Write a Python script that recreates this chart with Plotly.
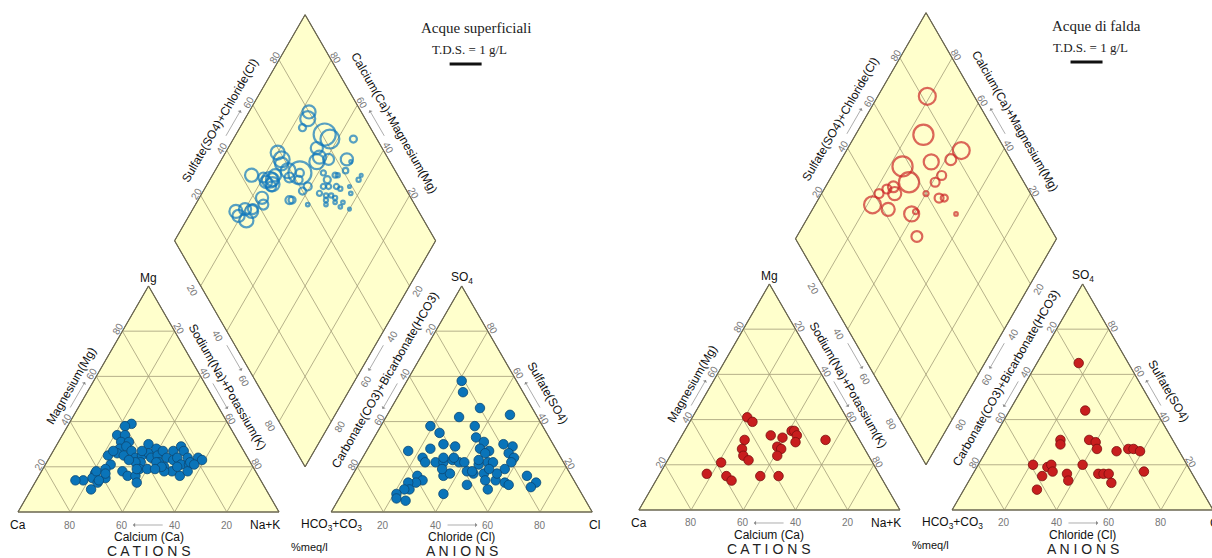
import math
import plotly.graph_objects as go

# ---------------------------------------------------------------------------
# Piper diagrams of major-ion chemistry (% meq/l)
# ---------------------------------------------------------------------------

# --- Acque superficiali: cation triangle (Mg %, Na+K %) ---
sup_cat_mg = [39, 38, 34, 34, 31, 31, 28, 29, 26, 25, 27, 25, 24, 25, 30, 26, 22, 22, 23, 21,
              19, 15, 17, 15, 10, 14, 14, 13, 18, 16, 16, 13, 19, 19, 24, 28, 25, 27, 22, 24,
              20, 27, 23, 18, 24, 29, 21, 27, 24, 21, 16, 18, 22, 24, 23, 21, 18, 22, 20,
              18, 17, 27, 27, 19, 20, 19, 14]
sup_cat_nak = [24, 22, 21, 24, 24, 27, 25, 27, 25, 28, 30, 22, 33, 35, 35, 37, 36, 34, 31, 25,
               24, 26, 21, 21, 23, 18, 15, 24, 31, 34, 37, 39, 37, 40, 39, 39, 41, 42, 43, 45,
               46, 46, 48, 50, 49, 48, 52, 50, 53, 55, 54, 56, 55, 57, 59, 57, 47, 42, 45,
               21, 25, 23, 34, 43, 51, 36, 24]

# --- Acque superficiali: anion triangle (SO4 %, Cl %) ---
sup_an_so4 = [58, 53, 46, 42, 43, 38, 38, 35, 33, 27, 28, 30, 29, 31, 28, 27, 30, 29, 26, 24,
              24, 22, 22, 22, 23, 22, 22, 18, 17, 21, 22, 22, 17, 14, 14, 10, 13, 12, 19, 16,
              13, 11, 12, 8, 16, 17, 19, 16, 14, 13, 13, 10, 10, 8, 6, 5, 17, 26, 19, 24,
              24, 23, 22, 18]
sup_an_cl = [21, 24, 34, 28, 47, 19, 36, 24, 39, 16, 24, 28, 33, 43, 43, 47, 51, 55, 55, 58,
             23, 25, 29, 32, 35, 38, 40, 43, 46, 46, 49, 51, 50, 52, 56, 55, 60, 62, 57, 67,
             72, 71, 46, 39, 35, 37, 33, 25, 28, 26, 23, 25, 23, 21, 22, 26, 55, 46, 51, 31,
             35, 45, 58, 45]

# --- Acque superficiali: diamond (Na+K %, SO4+Cl %, T.D.S. g/L) ---
sup_dia_nak = [23, 24, 24, 34, 37, 46, 34, 20, 23, 24, 37, 41, 48, 15, 23, 25, 24, 30, 33, 33,
               34, 39, 38, 35, 36, 43, 42, 45, 47, 48, 50, 57, 57, 45, 47, 50, 52, 45, 48, 50,
               52, 49, 50, 53, 56, 57, 56, 55, 24, 26, 23, 20, 17, 19, 23, 22, 24, 25, 20, 28,
               37, 50, 60, 23]
sup_dia_sc = [80, 78, 74, 81, 82, 91, 75, 59, 59, 58, 72, 77, 84, 44, 50, 50, 53, 58, 63, 63,
              61, 63, 60, 53, 54, 59, 72, 72, 76, 77, 81, 84, 86, 69, 71, 74, 75, 66, 68, 70,
              71, 67, 66, 70, 71, 78, 73, 79, 43, 42, 37, 34, 30, 30, 32, 48, 51, 49, 48, 59,
              74, 85, 74, 36]
sup_dia_tds = [0.41, 0.47, 0.22, 0.69, 0.59, 0.22, 0.38, 0.44, 0.50, 0.41, 0.47, 0.34, 0.38,
               0.41, 0.50, 0.44, 0.38, 0.31, 0.25, 0.72, 0.25, 0.25, 0.22, 0.25, 0.22, 0.11,
               0.16, 0.22, 0.16, 0.13, 0.17, 0.13, 0.09, 0.16, 0.16, 0.16, 0.13, 0.16, 0.13,
               0.13, 0.13, 0.13, 0.11, 0.11, 0.11, 0.11, 0.11, 0.09, 0.38, 0.31, 0.31, 0.38,
               0.41, 0.38, 0.44, 0.38, 0.41, 0.31, 0.31, 0.47, 0.41, 0.09, 0.09, 0.41]

# --- Acque di falda: cation triangle ---
fal_cat_mg = [41, 39, 33, 31, 27, 24, 22, 21, 16, 15, 13, 15, 15, 32, 28, 27, 24, 35, 35, 33, 30, 31]
fal_cat_nak = [21, 24, 34, 25, 26, 28, 31, 21, 18, 26, 29, 39, 46, 39, 39, 41, 41, 41, 42, 44, 45, 56]

# --- Acque di falda: anion triangle ---
fal_an_so4 = [65, 44, 31, 29, 31, 30, 27, 26, 27, 27, 26, 20, 19, 20, 17, 20, 16, 13, 15, 9,
              16, 16, 16, 12, 17]
fal_an_cl = [16, 29, 26, 27, 37, 40, 42, 50, 54, 56, 59, 21, 27, 28, 30, 40, 36, 38, 27, 28,
             48, 50, 52, 55, 65]

# --- Acque di falda: diamond ---
fal_dia_nak = [19, 26, 44, 42, 35, 25, 31, 42, 41, 26, 24, 22, 28, 22, 29, 40, 46, 48, 39, 40, 56, 46]
fal_dia_sc = [82, 72, 83, 77, 69, 57, 56, 70, 66, 49, 46, 42, 48, 37, 42, 60, 64, 66, 50, 52, 67, 47]
fal_dia_tds = [0.53, 0.63, 0.53, 0.34, 0.47, 0.63, 0.63, 0.28, 0.28, 0.34, 0.28, 0.28, 0.41,
               0.53, 0.41, 0.16, 0.28, 0.22, 0.47, 0.16, 0.11, 0.34]

tick_values = [20, 40, 60, 80]

# ---------------------------------------------------------------------------
# Geometry
# ---------------------------------------------------------------------------
H = math.sqrt(3) / 2
GAP = 20.0                 # gap between cation and anion triangles (% units)
PX = 2.61                  # screen pixels per % unit
FIG_W, FIG_H = 1212, 558
ORIGIN_PX = (18, 512)      # screen position of the Ca corner of the left diagram
TDS_BAR_PX = 32            # circle diameter for T.D.S. = 1 g/L

FONT = "Liberation Sans, Arial, sans-serif"
SERIF = "Liberation Serif, Times New Roman, serif"
FILL = "#FFFFCC"
GRID = "#A39D78"
EDGE = "#6A6650"
TICK_COL = "#777777"

x_range = [-ORIGIN_PX[0] / PX, (FIG_W - ORIGIN_PX[0]) / PX]
y_range = [(ORIGIN_PX[1] - FIG_H) / PX, ORIGIN_PX[1] / PX]


def cat_xy(mg, nak, o):
    return nak + mg / 2 + o[0], H * mg + o[1]


def an_xy(so4, cl, o):
    return 100 + GAP + cl + so4 / 2 + o[0], H * so4 + o[1]


def dia_xy(nak, sc, o):
    return 50 + GAP / 2 + 0.5 * (nak + sc) + o[0], H * (100 + GAP + sc - nak) + o[1]


fig = go.Figure()
annotations = []
shapes = []


def text(x, y, s, size=10, color="#111", angle=0, family=FONT, xanchor="center", yanchor="middle"):
    annotations.append(dict(x=x, y=y, xref="x", yref="y", text=s, showarrow=False,
                            textangle=angle, xanchor=xanchor, yanchor=yanchor,
                            font=dict(family=family, size=size, color=color)))


def shifted(p, normal, off_px):
    return p[0] + normal[0] * off_px / PX, p[1] + normal[1] * off_px / PX


def edge_scale(pos, normal, angle, lab_off, arr_off):
    """Tick numbers along one edge plus a small arrow showing increasing values."""
    for v in tick_values:
        x, y = shifted(pos(v), normal, lab_off)
        text(x, y, str(v), size=10, color=TICK_COL, angle=angle)
    tx, ty = shifted(pos(44), normal, arr_off)
    hx, hy = shifted(pos(56), normal, arr_off)
    annotations.append(dict(x=hx, y=hy, ax=tx, ay=ty, xref="x", yref="y", axref="x", ayref="y",
                            text="", showarrow=True, arrowhead=1, arrowsize=1.1,
                            arrowwidth=0.7, arrowcolor="#8A8A8A", standoff=0, startstandoff=0))


def add_lines(segs, color, width):
    xs, ys = [], []
    for a, b in segs:
        xs += [a[0], b[0], None]
        ys += [a[1], b[1], None]
    fig.add_trace(go.Scatter(x=xs, y=ys, mode="lines", line=dict(color=color, width=width),
                             hoverinfo="skip", showlegend=False))


def add_polygon(pts):
    xs = [p[0] for p in pts] + [pts[0][0]]
    ys = [p[1] for p in pts] + [pts[0][1]]
    fig.add_trace(go.Scatter(x=xs, y=ys, mode="lines", fill="toself", fillcolor=FILL,
                             line=dict(color=EDGE, width=1), hoverinfo="skip", showlegend=False))


def piper(o, cmg, cnak, aso4, acl, dnak, dsc, dtds, dot_fill, dot_edge, ring, title):
    # frames
    tri_c = [cat_xy(0, 0, o), cat_xy(0, 100, o), cat_xy(100, 0, o)]
    tri_a = [an_xy(0, 0, o), an_xy(0, 100, o), an_xy(100, 0, o)]
    dia = [dia_xy(100, 0, o), dia_xy(100, 100, o), dia_xy(0, 100, o), dia_xy(0, 0, o)]
    for poly in (tri_c, tri_a, dia):
        add_polygon(poly)

    # internal grids
    segs = []
    for v in tick_values:
        segs.append((cat_xy(v, 0, o), cat_xy(v, 100 - v, o)))
        segs.append((cat_xy(0, v, o), cat_xy(100 - v, v, o)))
        segs.append((cat_xy(0, 100 - v, o), cat_xy(100 - v, 0, o)))
        segs.append((an_xy(v, 0, o), an_xy(v, 100 - v, o)))
        segs.append((an_xy(0, v, o), an_xy(100 - v, v, o)))
        segs.append((an_xy(0, 100 - v, o), an_xy(100 - v, 0, o)))
        segs.append((dia_xy(v, 0, o), dia_xy(v, 100, o)))
        segs.append((dia_xy(0, v, o), dia_xy(100, v, o)))
    add_lines(segs, GRID, 0.8)
    for poly in (tri_c, tri_a, dia):
        add_lines([(poly[i], poly[(i + 1) % len(poly)]) for i in range(len(poly))], EDGE, 1.1)

    # samples
    cx, cy = zip(*[cat_xy(m, n, o) for m, n in zip(cmg, cnak)])
    ax_, ay_ = zip(*[an_xy(s, c, o) for s, c in zip(aso4, acl)])
    for xs, ys in ((cx, cy), (ax_, ay_)):
        fig.add_trace(go.Scatter(x=xs, y=ys, mode="markers", hoverinfo="skip", showlegend=False,
                                 marker=dict(size=9.5, color=dot_fill,
                                             line=dict(color=dot_edge, width=0.8))))
    dx, dy = zip(*[dia_xy(n, s, o) for n, s in zip(dnak, dsc)])
    fig.add_trace(go.Scatter(x=dx, y=dy, mode="markers", hoverinfo="skip", showlegend=False,
                             marker=dict(symbol="circle-open", color=ring,
                                         size=[t * TDS_BAR_PX for t in dtds],
                                         line=dict(width=2.2, color=ring))))

    # edge scales
    down, left_out, right_out = (0, -1), (-H, 0.5), (H, 0.5)
    low_left, low_right = (-H, -0.5), (H, -0.5)
    edge_scale(lambda v: cat_xy(0, 100 - v, o), down, 0, 13, 13)
    edge_scale(lambda v: cat_xy(v, 0, o), left_out, -60, 5, 7)
    edge_scale(lambda v: cat_xy(100 - v, v, o), right_out, 60, 5, 7)
    edge_scale(lambda v: an_xy(0, v, o), down, 0, 13, 13)
    edge_scale(lambda v: an_xy(100 - v, 0, o), left_out, -60, 5, 7)
    edge_scale(lambda v: an_xy(v, 100 - v, o), right_out, 60, 5, 7)
    edge_scale(lambda v: dia_xy(0, v, o), left_out, -60, 5, 8)
    edge_scale(lambda v: dia_xy(100 - v, 100, o), right_out, 60, 5, 8)
    edge_scale(lambda v: dia_xy(v, 0, o), low_left, 60, 10, 7)
    edge_scale(lambda v: dia_xy(100, 100 - v, o), low_right, -60, 10, 7)

    # axis names
    text(*shifted(cat_xy(52, 0, o), left_out, 17), "Magnesium(Mg)", 12, "#111", -60)
    text(*shifted(cat_xy(100 - 48.6, 48.6, o), right_out, 18), "Sodium(Na)+Potassium(K)", 12, "#111", 60)
    text(*shifted(cat_xy(0, 50, o), down, 25), "Calcium (Ca)", 12, "#111")
    text(*shifted(cat_xy(0, 50, o), down, 39), "C A T I O N S", 14, "#222")
    text(*shifted(an_xy(54, 0, o), left_out, 19), "Carbonate(CO3)+Bicarbonate(HCO3)", 12, "#111", -60)
    text(*shifted(an_xy(48, 52, o), right_out, 21), "Sulfate(SO4)", 12, "#111", 60)
    text(*shifted(an_xy(0, 50, o), down, 25), "Chloride (Cl)", 12, "#111")
    text(*shifted(an_xy(0, 50, o), down, 39), "A N I O N S", 14, "#222")
    text(*shifted(dia_xy(0, 48.4, o), left_out, 21), "Sulfate(SO4)+Chloride(Cl)", 12, "#111", -60)
    text(*shifted(dia_xy(53, 100, o), right_out, 23), "Calcium(Ca)+Magnesium(Mg)", 12, "#111", 60)
    gx = 100 + GAP / 2 + o[0]
    text(gx + 4 / PX, o[1] - 35 / PX, "%meq/l", 11, "#111")

    # corner names
    x, y = cat_xy(0, 0, o)
    text(x, y - 13 / PX, "Ca", 12)
    x, y = cat_xy(0, 100, o)
    text(x + 3 / PX, y - 13 / PX, "Na+K", 12, xanchor="right")
    x, y = cat_xy(100, 0, o)
    text(x, y - 1 / PX, "Mg", 12, yanchor="bottom")
    x, y = an_xy(0, 0, o)
    text(x, y - 13 / PX, "HCO<sub>3</sub>+CO<sub>3</sub>", 12)
    x, y = an_xy(0, 100, o)
    text(x - 5 / PX, y - 13 / PX, "Cl", 12, xanchor="left")
    x, y = an_xy(100, 0, o)
    text(x, y - 2 / PX, "SO<sub>4</sub>", 12, yanchor="bottom")

    # title and T.D.S. scale
    text(175.3 + o[0], 185.4 + o[1], title, 15, "#222", family=SERIF)
    text(173.0 + o[0], 177.2 + o[1], "T.D.S. = 1 g/L", 13, "#222", family=SERIF)
    half = 0.5 * TDS_BAR_PX / PX
    bx, by = 171.5 + o[0], 171.6 + o[1]
    shapes.append(dict(type="line", xref="x", yref="y", x0=bx - half, x1=bx + half, y0=by, y1=by,
                       line=dict(color="#111", width=3)))


piper((0.0, 0.0), sup_cat_mg, sup_cat_nak, sup_an_so4, sup_an_cl,
      sup_dia_nak, sup_dia_sc, sup_dia_tds, "#0A74B9", "#0B4773", "#0F78BC", "Acque superficiali")
piper((237.9, 0.77), fal_cat_mg, fal_cat_nak, fal_an_so4, fal_an_cl,
      fal_dia_nak, fal_dia_sc, fal_dia_tds, "#C81E1E", "#7A0F0F", "#CC2626", "Acque di falda")

fig.update_layout(
    width=FIG_W, height=FIG_H, margin=dict(l=0, r=0, t=0, b=0),
    paper_bgcolor="white", plot_bgcolor="white",
    xaxis=dict(range=x_range, visible=False, showgrid=False, zeroline=False, fixedrange=True),
    yaxis=dict(range=y_range, visible=False, showgrid=False, zeroline=False, fixedrange=True),
    annotations=annotations, shapes=shapes, showlegend=False,
)

fig.write_html("out.html")
